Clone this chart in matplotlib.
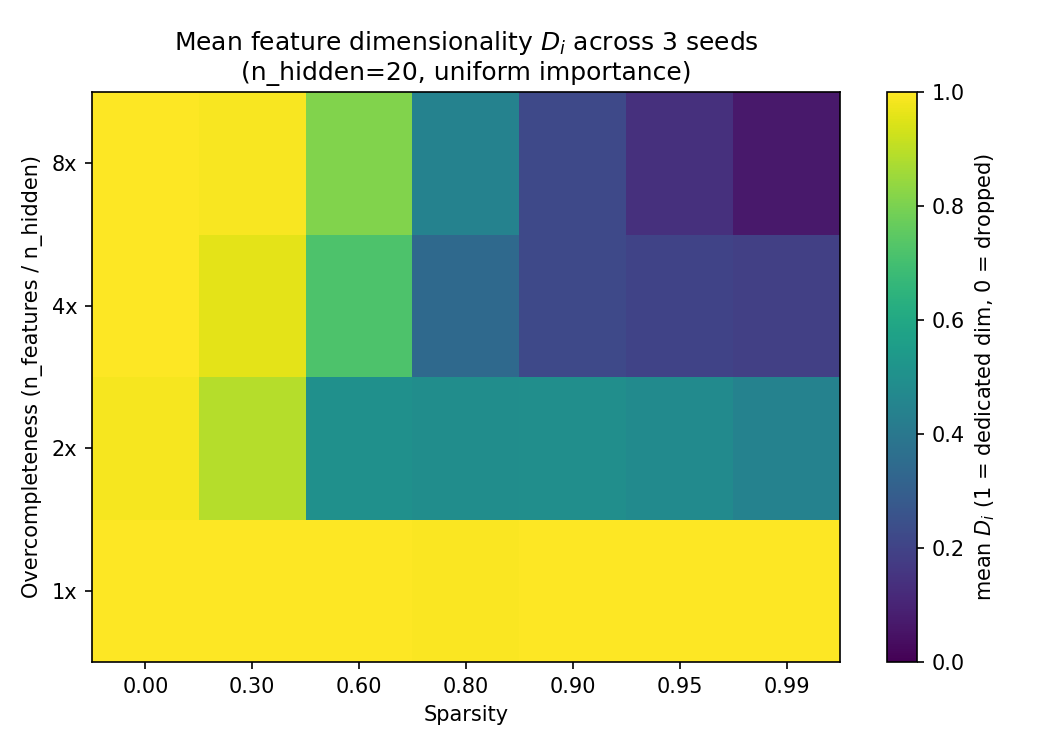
import numpy as np
import matplotlib
matplotlib.use("Agg")
import matplotlib.pyplot as plt

sparsity_labels = ["0.00", "0.30", "0.60", "0.80", "0.90", "0.95", "0.99"]
overcomplete_labels = ["1x", "2x", "4x", "8x"]

row_1x = [1.0, 1.0, 1.0, 0.993, 1.0, 1.0, 1.0]
row_2x = [0.987, 0.89, 0.50, 0.49, 0.495, 0.48, 0.445]
row_4x = [1.0, 0.96, 0.72, 0.34, 0.22, 0.20, 0.19]
row_8x = [1.0, 0.99, 0.81, 0.445, 0.22, 0.14, 0.07]

data = np.array([row_1x, row_2x, row_4x, row_8x])

fig = plt.figure(figsize=(7, 5), dpi=150)
ax = fig.add_axes([92/1050, 1 - 662/750, (840-92)/1050, (662-92)/750])
cax = fig.add_axes([887/1050, 1 - 662/750, 30/1050, (662-92)/750])

im = ax.imshow(data, cmap="viridis", vmin=0, vmax=1, aspect="auto", origin="lower")
ax.set_xticks(range(len(sparsity_labels)))
ax.set_xticklabels(sparsity_labels)
ax.set_yticks(range(len(overcomplete_labels)))
ax.set_yticklabels(overcomplete_labels)
ax.set_xlabel("Sparsity")
ax.set_ylabel("Overcompleteness (n_features / n_hidden)")
ax.set_title("Mean feature dimensionality $D_i$ across 3 seeds\n(n_hidden=20, uniform importance)")

cb = fig.colorbar(im, cax=cax)
cb.set_label("mean $D_i$ (1 = dedicated dim, 0 = dropped)")

fig.savefig("out.png", dpi=150)
